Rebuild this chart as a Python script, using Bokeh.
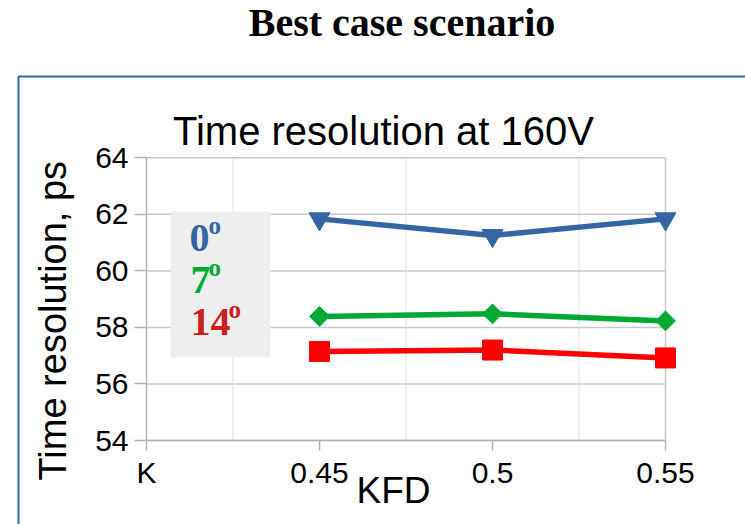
import math
from bokeh.plotting import figure
from bokeh.models import (Label, BoxAnnotation, FixedTicker, Range1d)
from bokeh.embed import file_html
from bokeh.resources import INLINE

# ---- data ----
kfd = [0.45, 0.5, 0.55]
res_0deg = [61.84, 61.25, 61.84]
res_7deg = [58.39, 58.48, 58.23]
res_14deg = [57.15, 57.20, 56.92]

x_ticks = [0.4, 0.45, 0.5, 0.55]
x_tick_labels = ["K", "0.45", "0.5", "0.55"]
x_minor_grid = [0.425, 0.475, 0.525]
y_ticks = [54, 56, 58, 60, 62, 64]

legend_labels = ["0", "7", "14"]
legend_colors = ["#3465a4", "#00a933", "#c9211e"]

heading = "Best case scenario"
chart_title = "Time resolution at 160V"
x_label = "KFD"
y_label = "Time resolution, ps"

BLUE = "#3465a4"
GREEN = "#00a933"
RED = "#ff0000"
SANS = "Liberation Sans"
SERIF = "Liberation Serif"

W, H = 745, 524
# plot-area placement on the canvas (pixels)
X0_PX, X1_PX = 146, 665   # x = 0.4 ... 0.55
Y0_PX, Y1_PX = 440, 157.3  # y = 54 ... 64
xmin, xmax = x_ticks[0], x_ticks[-1]
ymin, ymax = y_ticks[0], y_ticks[-1]
kx = (X1_PX - X0_PX) / (xmax - xmin)
ky = (Y0_PX - Y1_PX) / (ymax - ymin)
x_range = Range1d(xmin - X0_PX / kx, xmax + (W - X1_PX) / kx)
y_range = Range1d(ymin - (H - Y0_PX) / ky, ymax + Y1_PX / ky)

p = figure(width=W, height=H, output_backend="svg", toolbar_location=None,
           x_range=x_range, y_range=y_range, title=None,
           min_border=0, min_border_left=0, min_border_right=0,
           min_border_top=0, min_border_bottom=0)
p.background_fill_color = "white"
p.border_fill_color = "white"
p.outline_line_color = None
p.grid.visible = False

# axes placed at fixed data positions inside the canvas
p.xaxis.fixed_location = ymin
p.yaxis.fixed_location = xmin
p.xaxis.bounds = (xmin, xmax)
p.yaxis.bounds = (ymin, ymax)
p.xaxis.ticker = FixedTicker(ticks=x_ticks)
p.xaxis.major_label_overrides = {t: l for t, l in zip(x_ticks, x_tick_labels)}
p.yaxis.ticker = FixedTicker(ticks=y_ticks)
for ax in (p.xaxis, p.yaxis):
    ax.axis_line_color = "#b3b3b3"
    ax.axis_line_width = 1.5
    ax.major_tick_line_color = "#b3b3b3"
    ax.major_tick_line_width = 1.5
    ax.major_tick_in = 0
    ax.minor_tick_line_color = None
    ax.major_label_text_font = SANS
    ax.major_label_text_font_size = "30px"
    ax.major_label_text_color = "black"
p.xaxis.major_tick_out = 10
p.yaxis.major_tick_out = 12
p.xaxis.major_label_standoff = 5
p.yaxis.major_label_standoff = 6

# grid lines limited to the plot area
p.segment(x0=[xmin] * len(y_ticks), x1=[xmax] * len(y_ticks), y0=y_ticks, y1=y_ticks,
          line_color="#c8c8c8", line_width=1.5)
p.segment(x0=x_minor_grid, x1=x_minor_grid, y0=[ymin] * len(x_minor_grid),
          y1=[ymax] * len(x_minor_grid), line_color="#dddddd", line_width=1)
p.segment(x0=[xmax], x1=[xmax], y0=[ymin], y1=[ymax], line_color="#c8c8c8", line_width=1.5)

# series
p.line(kfd, res_0deg, line_color=BLUE, line_width=5.5)
p.scatter(kfd, res_0deg, marker="inverted_triangle", size=21, color=BLUE)
p.line(kfd, res_7deg, line_color=GREEN, line_width=5.5)
p.scatter(kfd, res_7deg, marker="square", angle=math.pi / 4, size=14, color=GREEN)
p.line(kfd, res_14deg, line_color=RED, line_width=5.5)
p.scatter(kfd, res_14deg, marker="square", size=20, color=RED)

SHIFT = 13  # label baseline correction (pixels)


def sy(y_px):
    return H - y_px


# outer blue border
p.add_layout(BoxAnnotation(left=18, right=W + 20, top=sy(76), bottom=-20,
                           left_units="screen", right_units="screen",
                           top_units="screen", bottom_units="screen",
                           fill_alpha=0, line_color=BLUE, line_alpha=1, line_width=2))

# legend box
p.add_layout(BoxAnnotation(left=170, right=270, top=sy(211), bottom=sy(357),
                           left_units="screen", right_units="screen",
                           top_units="screen", bottom_units="screen",
                           fill_color="#eeeeee", fill_alpha=1, line_color=None))

leg_pos = [(189, 250), (190, 292), (190, 334)]
sup_pos = [(208, 238), (208, 280), (228, 322)]
for lab, col, (lx, ly), (sx_, sy_) in zip(legend_labels, legend_colors, leg_pos, sup_pos):
    p.add_layout(Label(x=lx, y=sy(ly - SHIFT), x_units="screen", y_units="screen", text=lab,
                       text_font=SERIF, text_font_style="bold", text_font_size="40px",
                       text_color=col, text_baseline="alphabetic", text_align="left"))
    p.add_layout(Label(x=sx_, y=sy(sy_ - SHIFT), x_units="screen", y_units="screen", text="o",
                       text_font=SERIF, text_font_style="bold", text_font_size="25px",
                       text_color=col, text_baseline="alphabetic", text_align="left"))

# texts
p.add_layout(Label(x=401.5, y=sy(35 - SHIFT), x_units="screen", y_units="screen", text=heading,
                   text_font=SERIF, text_font_style="bold", text_font_size="40px",
                   text_color="black", text_align="center", text_baseline="alphabetic"))
p.add_layout(Label(x=383, y=sy(143.3 - SHIFT), x_units="screen", y_units="screen",
                   text=chart_title,
                   text_font=SANS, text_font_size="40px",
                   text_color="black", text_align="center", text_baseline="alphabetic"))
p.add_layout(Label(x=393, y=sy(503 - SHIFT), x_units="screen", y_units="screen", text=x_label,
                   text_font=SANS, text_font_size="37px",
                   text_color="black", text_align="center", text_baseline="alphabetic"))
p.add_layout(Label(x=65 - SHIFT, y=sy(480), x_units="screen", y_units="screen", text=y_label,
                   angle=math.pi / 2,
                   text_font=SANS, text_font_size="38px",
                   text_color="black", text_align="left", text_baseline="alphabetic"))

open("out.html", "w").write(file_html(p, INLINE))
